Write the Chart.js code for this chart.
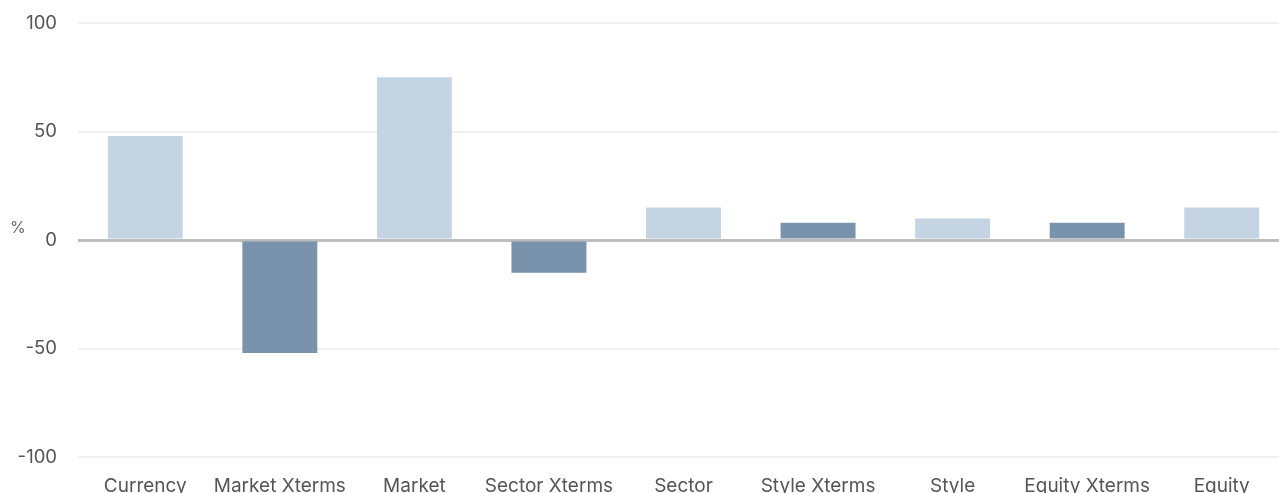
<!DOCTYPE html>
<html>
<head>
<meta charset="utf-8">
<script src="https://cdn.jsdelivr.net/npm/chart.js@4"></script>
<style>
  html, body { margin: 0; padding: 0; background: #fff; overflow: hidden; }
  #wrap { position: relative; width: 1279px; height: 493px; overflow: hidden; }
  #unit { position: absolute; left: 10px; top: 217px; font: 16px Inter, sans-serif; color: #666; }
</style>
</head>
<body>
<div id="wrap">
  <canvas id="chart" width="1289" height="516"></canvas>
  <div id="unit">%</div>
</div>
<script>
var categories = ['Currency', 'Market Xterms', 'Market', 'Sector Xterms', 'Sector', 'Style Xterms', 'Style', 'Equity Xterms', 'Equity'];
var values = [48, -52, 75, -15, 15, 8, 10, 8, 15];
var yTicks = [-100, -50, 0, 50, 100];

var light = '#c4d4e3';
var dark = '#7a93ad';
var colors = categories.map(function (c) { return c.indexOf('Xterms') >= 0 ? dark : light; });

var ctx = document.getElementById('chart').getContext('2d');
var chart = new Chart(ctx, {
  type: 'bar',
  data: {
    labels: categories,
    datasets: [{
      data: values,
      backgroundColor: colors,
      borderWidth: 0,
      barPercentage: 0.557,
      categoryPercentage: 1
    }]
  },
  options: {
    responsive: false,
    animation: false,
    layout: { padding: { top: 23, right: 0, left: 0, bottom: 0 } },
    plugins: { legend: { display: false }, tooltip: { enabled: false } },
    scales: {
      x: {
        grid: { display: false, drawTicks: false },
        border: { display: false },
        ticks: { color: '#555', font: { family: 'Inter', size: 19 }, padding: 18, maxRotation: 0, autoSkip: false }
      },
      y: {
        min: -100,
        max: 100,
        z: 1,
        afterBuildTicks: function (scale) {
          scale.ticks = yTicks.map(function (v) { return { value: v }; });
        },
        afterFit: function (scale) {
          scale.width = 78;
          scale.paddingTop = 0;
          scale.paddingBottom = 0;
        },
        grid: {
          drawTicks: false,
          color: function (c) { return c.tick && c.tick.value === 0 ? '#bdbdbd' : 'rgba(0,0,0,0.06)'; },
          lineWidth: function (c) { return c.tick && c.tick.value === 0 ? 3 : 2; }
        },
        border: { display: false },
        ticks: { color: '#555', font: { family: 'Inter', size: 18.5 }, padding: 21 }
      }
    }
  }
});
</script>
</body>
</html>
